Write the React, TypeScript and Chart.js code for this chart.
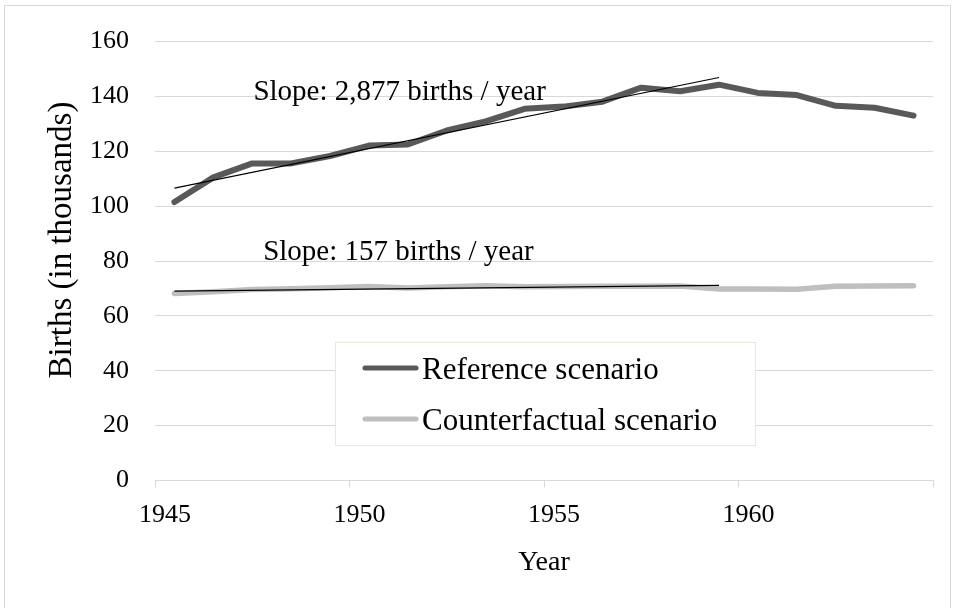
import React, { useEffect, useRef } from "react";
import { Chart, registerables } from "chart.js";

Chart.register(...registerables);

const years = [1945, 1946, 1947, 1948, 1949, 1950, 1951, 1952, 1953, 1954, 1955, 1956, 1957, 1958, 1959, 1960, 1961, 1962, 1963, 1964];
const reference = [101.5, 110.5, 115.6, 115.6, 118.3, 122.1, 122.5, 127.6, 130.9, 135.5, 136.3, 138.1, 143.2, 141.9, 144.3, 141.3, 140.5, 136.6, 135.9, 133.0];
const counterfactual = [68.2, 68.8, 69.6, 69.9, 70.3, 70.7, 70.2, 70.6, 71.0, 70.6, 70.7, 70.8, 70.8, 70.9, 69.8, 69.8, 69.7, 70.8, 70.9, 71.0];
const trendYears = [1945, 1959];
const referenceTrend = [106.6, 146.9];
const counterfactualTrend = [69.0, 71.1];
const seriesLabels = ["Reference scenario", "Counterfactual scenario"];
const slopeLabels = ["Slope: 2,877 births / year", "Slope: 157 births / year"];
const slopeAnchorYears = [1947.53, 1947.78];
const slopeAnchorValues = [138.7, 80.5];
const xTicks = [1945, 1950, 1955, 1960, 1965];
const yTicks = [0, 20, 40, 60, 80, 100, 120, 140, 160];
const xTitle = "Year";
const yTitle = "Births (in thousands)";

const SERIF = '"Liberation Serif", "Times New Roman", serif';
const GRID = "#d9d9d9";
const REF_COLOR = "#595959";
const CF_COLOR = "#bfbfbf";

const mid = (y: number) => y + 0.5;

export default function App() {
  const ref = useRef<HTMLCanvasElement | null>(null);

  useEffect(() => {
    if (!ref.current) return;

    const framePlugin = {
      id: "frame",
      beforeDraw(chart: any) {
        const ctx = chart.ctx;
        ctx.save();
        ctx.fillStyle = "#ffffff";
        ctx.fillRect(0, 0, chart.width, chart.height);
        ctx.strokeStyle = GRID;
        ctx.lineWidth = 1;
        ctx.strokeRect(4.5, 5.5, 946, 640);
        ctx.restore();
      },
      afterDraw(chart: any) {
        const ctx = chart.ctx;
        ctx.save();
        ctx.translate(62, 240);
        ctx.rotate(-Math.PI / 2);
        ctx.font = `33px ${SERIF}`;
        ctx.fillStyle = "#000000";
        ctx.textAlign = "center";
        ctx.textBaseline = "middle";
        ctx.fillText(yTitle, 0, 0);
        ctx.restore();
      },
    };

    const annotationPlugin = {
      id: "slopeText",
      afterDatasetsDraw(chart: any) {
        const ctx = chart.ctx;
        const xs = chart.scales.x;
        const ys = chart.scales.y;
        ctx.save();
        ctx.font = `29px ${SERIF}`;
        ctx.fillStyle = "#000000";
        ctx.textAlign = "left";
        ctx.textBaseline = "alphabetic";
        slopeLabels.forEach((t, i) => {
          ctx.fillText(t, xs.getPixelForValue(slopeAnchorYears[i]), ys.getPixelForValue(slopeAnchorValues[i]));
        });
        ctx.restore();
      },
    };

    const legendPlugin = {
      id: "boxLegend",
      afterDraw(chart: any) {
        const ctx = chart.ctx;
        ctx.save();
        const bx = 335.5, by = 342.5, bw = 420, bh = 103;
        ctx.fillStyle = "#ffffff";
        ctx.fillRect(bx, by, bw, bh);
        ctx.strokeStyle = "#e9e7dc";
        ctx.lineWidth = 1;
        ctx.strokeRect(bx, by, bw, bh);
        const colors = [REF_COLOR, CF_COLOR];
        const lineYs = [368, 419];
        const baseYs = [379, 430];
        seriesLabels.forEach((lbl, i) => {
          ctx.strokeStyle = colors[i];
          ctx.lineWidth = 5;
          ctx.lineCap = "round";
          ctx.beginPath();
          ctx.moveTo(365, lineYs[i]);
          ctx.lineTo(416, lineYs[i]);
          ctx.stroke();
          ctx.fillStyle = "#000000";
          ctx.font = `31px ${SERIF}`;
          ctx.textBaseline = "alphabetic";
          ctx.textAlign = "left";
          ctx.fillText(lbl, 422, baseYs[i]);
        });
        ctx.restore();
      },
    };

    const chart = new Chart(ref.current, {
      type: "line",
      data: {
        datasets: [
          {
            label: "Reference trend",
            data: trendYears.map((y, i) => ({ x: mid(y), y: referenceTrend[i] })),
            borderColor: "#000000",
            borderWidth: 1.2,
            pointRadius: 0,
            fill: false,
          },
          {
            label: "Counterfactual trend",
            data: trendYears.map((y, i) => ({ x: mid(y), y: counterfactualTrend[i] })),
            borderColor: "#000000",
            borderWidth: 1.2,
            pointRadius: 0,
            fill: false,
          },
          {
            label: seriesLabels[0],
            data: years.map((y, i) => ({ x: mid(y), y: reference[i] })),
            borderColor: REF_COLOR,
            borderWidth: 6,
            borderCapStyle: "round",
            borderJoinStyle: "round",
            pointRadius: 0,
            fill: false,
          },
          {
            label: seriesLabels[1],
            data: years.map((y, i) => ({ x: mid(y), y: counterfactual[i] })),
            borderColor: CF_COLOR,
            borderWidth: 5.5,
            borderCapStyle: "round",
            borderJoinStyle: "round",
            pointRadius: 0,
            fill: false,
          },
        ],
      },
      options: {
        responsive: false,
        animation: false,
        devicePixelRatio: 1,
        layout: { padding: { top: 35.7, right: 22, left: 0, bottom: 0 } },
        plugins: {
          legend: { display: false },
          tooltip: { enabled: false },
          title: { display: false },
        },
        scales: {
          x: {
            type: "linear",
            min: xTicks[0],
            max: xTicks[xTicks.length - 1],
            afterBuildTicks(scale: any) {
              scale.ticks = xTicks.map((v) => ({ value: v }));
            },
            afterFit(scale: any) {
              scale.height = 127.5;
            },
            ticks: {
              color: "#000000",
              font: { family: SERIF, size: 26 },
              padding: 12,
              labelOffset: 10,
              maxRotation: 0,
              autoSkip: false,
              callback: (v: any) => (v === xTicks[xTicks.length - 1] ? "" : String(v)),
            },
            grid: {
              drawOnChartArea: false,
              drawTicks: true,
              tickLength: 7,
              color: GRID,
              lineWidth: 1,
            },
            border: { display: true, color: GRID, width: 1 },
            title: {
              display: true,
              text: xTitle,
              color: "#000000",
              font: { family: SERIF, size: 28 },
              padding: { top: 0, bottom: 29 },
            },
          },
          y: {
            type: "linear",
            min: yTicks[0],
            max: yTicks[yTicks.length - 1],
            afterBuildTicks(scale: any) {
              scale.ticks = yTicks.map((v) => ({ value: v }));
            },
            afterFit(scale: any) {
              scale.width = 155;
            },
            ticks: {
              color: "#000000",
              font: { family: SERIF, size: 26 },
              padding: 26,
            },
            grid: {
              drawTicks: false,
              color: GRID,
              lineWidth: 1,
            },
            border: { display: false },
            title: { display: false },
          },
        },
      },
      plugins: [framePlugin, annotationPlugin, legendPlugin],
    } as any);

    return () => chart.destroy();
  }, []);

  return (
    <div style={{ position: "absolute", left: 0, top: 0, width: 955, height: 608 }}>
      <canvas ref={ref} width={955} height={608} style={{ width: 955, height: 608, display: "block" }} />
    </div>
  );
}
